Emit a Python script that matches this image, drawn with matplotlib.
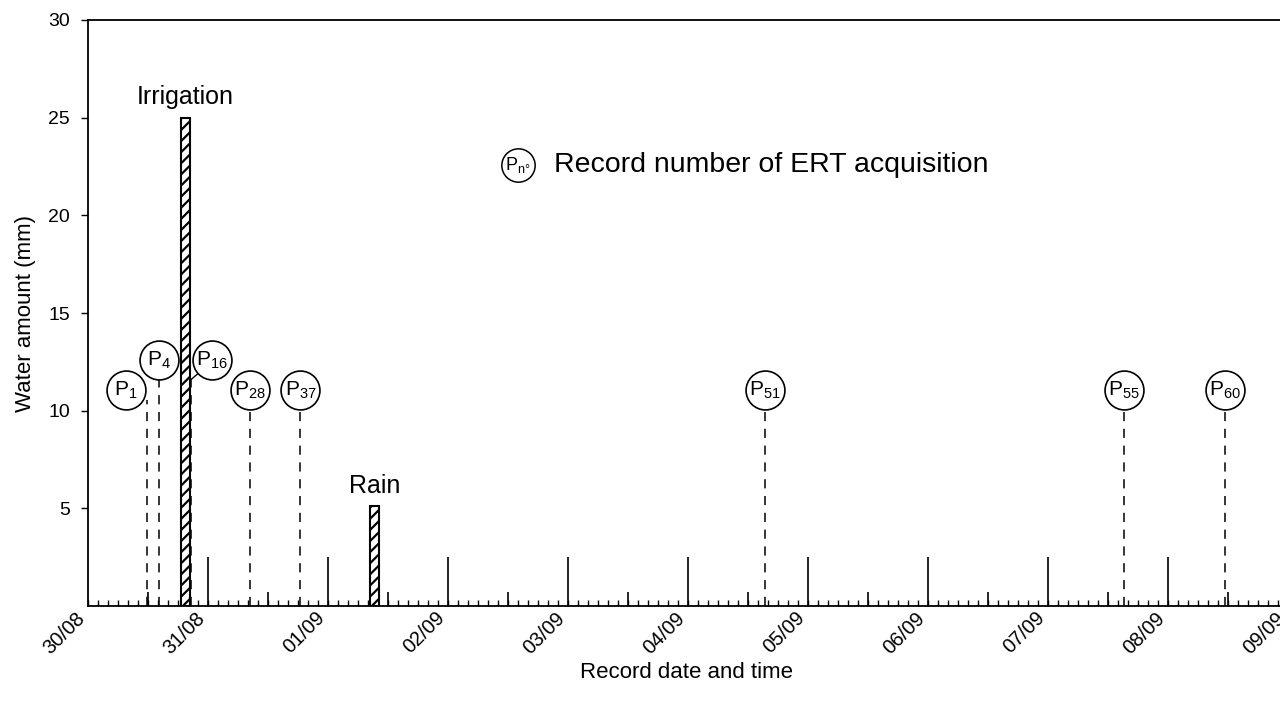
import numpy as np
import matplotlib
matplotlib.use('Agg')
import matplotlib.pyplot as plt
from matplotlib.ticker import MultipleLocator
from matplotlib.transforms import ScaledTranslation

plt.rcParams['font.family'] = ['Liberation Sans', 'DejaVu Sans']
plt.rcParams['hatch.linewidth'] = 1.6

# time in days since 30/08 00:00
day_labels = ['30/08', '31/08', '01/09', '02/09', '03/09', '04/09',
              '05/09', '06/09', '07/09', '08/09', '09/09']
day_marks = [1, 2, 3, 4, 5, 6, 7, 8, 9]                 # midnight markers
day_mark_h = 2.5
half_marks = [0.5, 1.5, 2.5, 3.5, 4.5, 5.5, 6.5, 7.5, 8.5, 9.5]  # noon markers
half_mark_h = 0.7

# water input events
event_names = ['Irrigation', 'Rain']
event_times = [0.8125, 2.39]
event_mm = [25.0, 5.1]

# ERT acquisitions
p_nums = ['1', '4', '16', '28', '37', '51', '55', '60']
p_times = [0.49, 0.59, 0.86, 1.35, 1.77, 5.64, 8.63, 9.475]
p_tops = [10.55, 11.6, 11.6, 10.1, 10.1, 10.1, 10.1, 10.1]

fig = plt.figure(figsize=(12.8, 7.07), dpi=100)
ax = fig.add_axes([88/1280, 1-606/707, 1200/1280, 586/707])

# noon / midnight markers
ax.vlines(day_marks, 0, day_mark_h, color='black', lw=1.2, zorder=2)
ax.vlines(half_marks, 0, half_mark_h, color='black', lw=1.2, zorder=2)

# acquisition lines and circles
offs = [(-21, 10), (0, 19), (21, 19), (0, 19), (0, 19), (0, 19), (0, 19), (0, 19)]
for i in range(len(p_nums)):
    ax.plot([p_times[i], p_times[i]], [0, p_tops[i]], color='black',
            lw=1.1, ls=(0, (6, 5)), zorder=1)
    dx, dy = offs[i]
    tr = ax.transData + ScaledTranslation(dx/100, dy/100, fig.dpi_scale_trans)
    if dx > 0:
        # short leader from the circle to its line
        ax.annotate('', xy=(p_times[i], p_tops[i]), xytext=(dx-14, dy-13),
                    textcoords='offset pixels',
                    arrowprops=dict(arrowstyle='-', lw=1, color='black',
                                    shrinkA=0, shrinkB=0))
    ax.plot(p_times[i], p_tops[i], 'o', ms=28, mfc='white', mec='black',
            mew=1.2, transform=tr, zorder=5, clip_on=False)
    ax.text(p_times[i], p_tops[i], r'P$_{\mathregular{' + p_nums[i] + '}}$',
            transform=tr, ha='center', va='center', fontsize=15, zorder=6)

# bars
ax.bar(event_times, event_mm, width=0.075, color='white', edgecolor='black',
       hatch='///', lw=1.5, zorder=3)
for n, t, v in zip(event_names, event_times, event_mm):
    ax.text(t, v + 0.45, n, ha='center', va='bottom', fontsize=18)

# legend-like note
ax.plot(0.358, 0.7526, 'o', ms=24, mfc='white', mec='black', mew=1.1,
        transform=ax.transAxes, clip_on=False)
ax.text(0.358, 0.7526, r'P$_{\mathregular{n°}}$', transform=ax.transAxes,
        ha='center', va='center', fontsize=13)
ax.text(0.388, 0.7526, 'Record number of ERT acquisition', transform=ax.transAxes,
        ha='left', va='center', fontsize=20.5)

ax.set_xlim(0, 10)
ax.set_ylim(0, 30)
ax.set_yticks([5, 10, 15, 20, 25, 30])
ax.tick_params(axis='y', direction='out', length=5, width=1, labelsize=14, pad=8)
ax.set_xticks(range(len(day_labels)))
ax.set_xticklabels(day_labels, rotation=45, ha='right', rotation_mode='anchor',
                   fontsize=14.5)
ax.xaxis.set_minor_locator(MultipleLocator(1/12))
ax.tick_params(axis='x', which='both', direction='in', length=4, width=1, pad=6)
# move the rotated labels so they end just left of their tick
shift = ScaledTranslation(-13/100, 6/100, fig.dpi_scale_trans)
for lab in ax.get_xticklabels():
    lab.set_transform(lab.get_transform() + shift)
for s in ['left', 'bottom', 'top']:
    ax.spines[s].set_linewidth(1.3)
ax.spines['right'].set_visible(False)

ax.set_ylabel('Water amount (mm)', fontsize=16)
ax.yaxis.set_label_coords(-52/1200, 0.5)
fig.text(687/1280, 1-672/707, 'Record date and time', ha='center', va='center',
         fontsize=16)

fig.savefig('out.png', dpi=100)
